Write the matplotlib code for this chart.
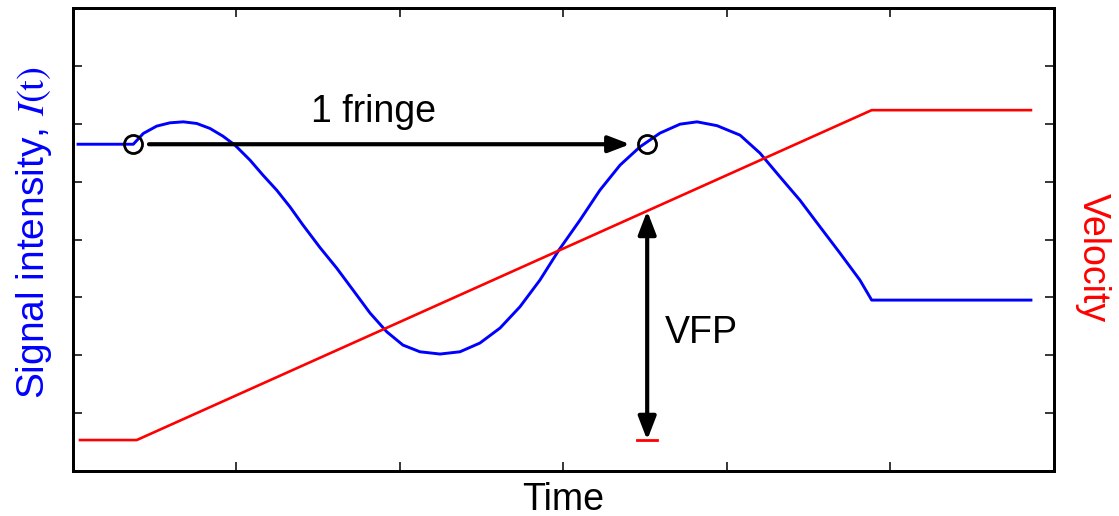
import numpy as np
import matplotlib
matplotlib.use('Agg')
import matplotlib.pyplot as plt

plt.rcParams['font.family'] = ['Liberation Sans', 'DejaVu Sans']
plt.rcParams['mathtext.fontset'] = 'stix'

# signal intensity I(t), arbitrary units
signal_time = [0.031, 0.369, 0.430, 0.512, 0.593, 0.675, 0.757, 0.838, 0.917, 0.991,
               1.083, 1.162, 1.246, 1.327, 1.407, 1.511, 1.613, 1.713, 1.817, 1.919,
               2.018, 2.122, 2.245, 2.367, 2.489, 2.612, 2.734, 2.856, 2.972, 3.101,
               3.223, 3.346, 3.468, 3.590, 3.713, 3.817, 3.939, 4.080, 4.202, 4.324,
               4.446, 4.569, 4.691, 4.813, 4.885, 5.859]
signal_value = [5.646, 5.646, 5.832, 5.959, 6.016, 6.033, 6.005, 5.919, 5.786, 5.630,
                5.371, 5.112, 4.853, 4.565, 4.249, 3.860, 3.506, 3.126, 2.729, 2.406,
                2.176, 2.060, 2.021, 2.060, 2.211, 2.470, 2.838, 3.299, 3.817, 4.335,
                4.853, 5.285, 5.601, 5.838, 5.993, 6.033, 5.967, 5.803, 5.492, 5.083,
                4.680, 4.219, 3.765, 3.299, 2.953, 2.953]

# velocity ramp
velocity_time = [0.043, 0.390, 4.885, 5.859]
velocity_value = [0.535, 0.535, 6.235, 6.235]

# start / end of one fringe
fringe_time = [0.369, 3.512]
fringe_level = 5.646

fig = plt.figure(figsize=(11.19, 5.16), dpi=100)
ax = fig.add_axes([0.0652, 0.0872, 0.8767, 0.8973])
ax2 = ax.twinx()

ax.plot(signal_time, signal_value, color='#0000ff', lw=2.1, zorder=3)
ax2.plot(velocity_time, velocity_value, color='#ff0000', lw=1.9, zorder=2)

# fringe markers and arrow
ax.plot(fringe_time, [fringe_level] * 2, 'o', ms=13, mfc='none', mec='black',
        mew=2, zorder=4)
ax.annotate('', xy=(fringe_time[1] - 0.105, fringe_level),
            xytext=(fringe_time[0] + 0.096, fringe_level),
            arrowprops=dict(arrowstyle='-|>,head_length=0.65,head_width=0.25',
                            mutation_scale=20, lw=3, color='black',
                            shrinkA=0, shrinkB=0))
ax.text(1.84, 5.9, '1 fringe', fontsize=27, ha='center', va='bottom')

# velocity fringe proportionality constant
vfp_top = np.interp(fringe_time[1], velocity_time, velocity_value)
vfp_base = velocity_value[0]
ax2.annotate('', xy=(fringe_time[1], vfp_top), xytext=(fringe_time[1], vfp_base),
             arrowprops=dict(arrowstyle='<|-|>,head_length=0.7,head_width=0.27',
                             mutation_scale=20, lw=3, color='black',
                             shrinkA=0, shrinkB=0))
ax2.plot([fringe_time[1] - 0.062, fringe_time[1] + 0.062], [vfp_base, vfp_base],
         color='#ff0000', lw=2)
ax.text(3.62, 2.38, 'VFP', fontsize=27, ha='left', va='center')

for a in (ax, ax2):
    a.set_xlim(0, 6)
    a.set_ylim(0, 8)
    a.set_xticks(range(1, 6))
    a.set_yticks(range(1, 8))
    a.tick_params(direction='in', length=6.5, width=1.1,
                  labelleft=False, labelright=False, labelbottom=False, labeltop=False)
    for s in a.spines.values():
        s.set_linewidth(2)
ax.tick_params(top=True, right=False)
ax2.tick_params(left=False, right=True)

ax.set_xlabel('Time', fontsize=27, labelpad=8)
ax.set_ylabel(r'Signal intensity, $I(\mathrm{t})$', fontsize=28, color='#0000ff')
ax.yaxis.set_label_coords(-0.019, 0.515)
ax2.set_ylabel('Velocity', fontsize=27, color='#ff0000', rotation=270,
               va='bottom')
ax2.yaxis.set_label_coords(1.021, 0.461)

fig.savefig('out.png', dpi=100)
